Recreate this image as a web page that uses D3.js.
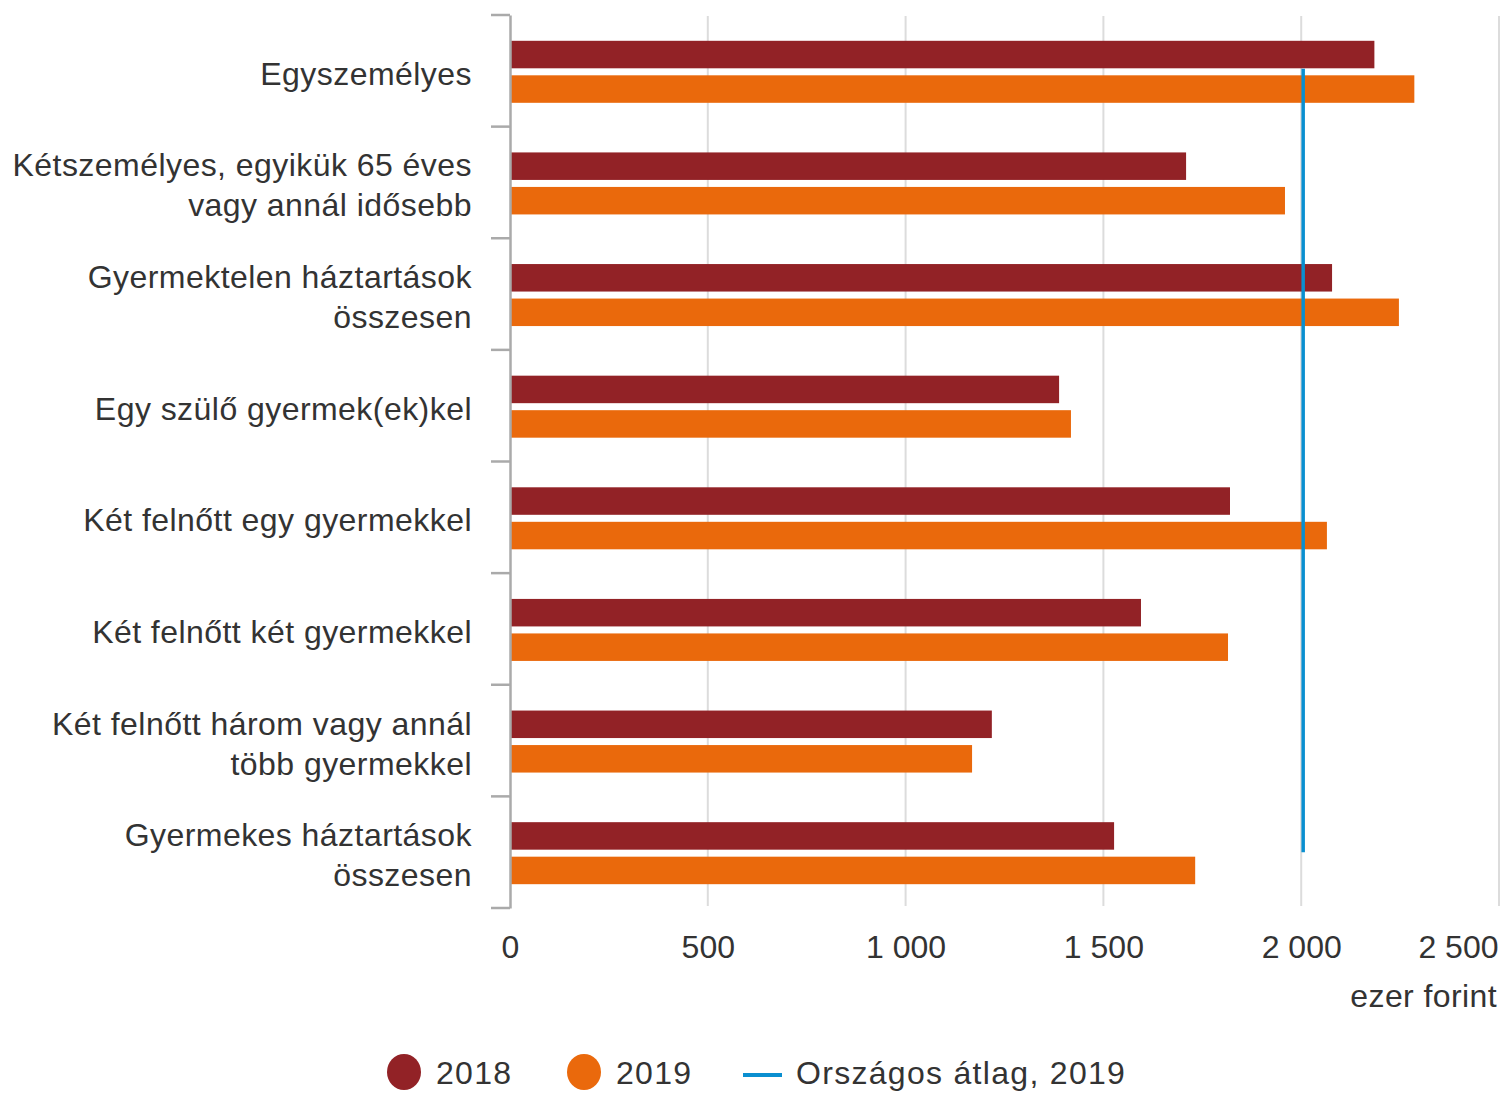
<!DOCTYPE html>
<html><head><meta charset="utf-8">
<script src="https://cdn.jsdelivr.net/npm/d3@7"></script>
<style>body{margin:0;background:#fff}svg{display:block;font-family:"Liberation Sans",Arial,sans-serif}</style>
</head><body><svg id="c" width="1504" height="1094"></svg>
<script>
const categories = [
  ["Egyszemélyes"],
  ["Kétszemélyes, egyikük 65 éves","vagy annál idősebb"],
  ["Gyermektelen háztartások","összesen"],
  ["Egy szülő gyermek(ek)kel"],
  ["Két felnőtt egy gyermekkel"],
  ["Két felnőtt két gyermekkel"],
  ["Két felnőtt három vagy annál","több gyermekkel"],
  ["Gyermekes háztartások","összesen"]
];
const values2018 = [2185, 1709, 2078, 1388, 1820, 1595, 1218, 1527];
const values2019 = [2286, 1959, 2247, 1418, 2065, 1815, 1168, 1732];
const nationalAvg2019 = 2005;
const xTicks = [0, 500, 1000, 1500, 2000, 2500];
const xTickLabels = ["0", "500", "1 000", "1 500", "2 000", "2 500"];
const seriesNames = ["2018", "2019"];
const avgName = "Országos átlag, 2019";
const unitLabel = "ezer forint";

(function(){
const colors = {"2018":"#922226", "2019":"#ea690c", avg:"#0a8fd0"};
const svg = d3.select("#c");
const mLeft = 510, mRight = 1499, mTop = 15, mBottom = 908;
const x = d3.scaleLinear().domain([0, 2500]).range([mLeft, mRight]);
const idx = categories.map((d,i)=>i);
const y = d3.scaleBand().domain(idx).range([mTop, mBottom]);
const inner = d3.scaleBand().domain(seriesNames).range([0, y.bandwidth()])
  .paddingInner(0.203).paddingOuter(0.719).align(0.52);

// gridlines
svg.append("g").selectAll("line").data(xTicks.slice(1)).join("line")
  .attr("x1", d=>x(d)).attr("x2", d=>x(d)).attr("y1", mTop+1).attr("y2", mBottom-2)
  .attr("stroke", "#dcdcdc").attr("stroke-width", 2);

// bars
const rows = idx.map(i=>({i, v:[{s:"2018", v:values2018[i]},{s:"2019", v:values2019[i]}]}));
const g = svg.append("g").selectAll("g").data(rows).join("g")
  .attr("transform", d=>`translate(0,${y(d.i)})`);
g.selectAll("rect").data(d=>d.v).join("rect")
  .attr("x", x(0)).attr("y", d=>inner(d.s)).attr("height", inner.bandwidth())
  .attr("width", d=>x(d.v)-x(0)).attr("fill", d=>colors[d.s]);

// y axis
const yAxis = d3.axisLeft(y).tickSize(0).tickFormat("");
const ya = svg.append("g").attr("transform", `translate(${mLeft},0)`).call(yAxis);
ya.select(".domain").attr("stroke", "#aaaaaa").attr("stroke-width", 2.5);
const bounds = idx.map(i=>y(i)).concat([mBottom]);
svg.append("g").selectAll("line").data(bounds).join("line")
  .attr("x1", 491).attr("x2", mLeft).attr("y1", d=>d).attr("y2", d=>d)
  .attr("stroke", "#aaaaaa").attr("stroke-width", 2.5);

// category labels
const lab = svg.append("g").selectAll("text").data(rows).join("text")
  .attr("text-anchor", "end").attr("fill", "#333").attr("font-size", 32)
  .attr("letter-spacing", "0.45px");
lab.each(function(d){
  const lines = categories[d.i];
  const cy = y(d.i) + y.bandwidth()/2;
  const lh = 40;
  const t = d3.select(this);
  lines.forEach((l,k)=>{
    t.append("tspan").attr("x", 472)
     .attr("y", cy + (k - (lines.length-1)/2)*lh + 14).text(l);
  });
});

// x axis labels
const xa = d3.axisBottom(x).tickValues(xTicks).tickSize(0).tickFormat((d,i)=>xTickLabels[i]);
const xg = svg.append("g").attr("transform", `translate(0,${mBottom})`).call(xa);
xg.select(".domain").remove();
xg.selectAll("text").attr("font-size", 32).attr("fill", "#333")
  .attr("font-family", '"Liberation Sans",Arial,sans-serif').attr("dy", null).attr("y", 50)
  .attr("text-anchor", "middle");
xg.selectAll(".tick").filter((d,i)=>i===xTicks.length-1).select("text").attr("x", -1).attr("text-anchor","end");
svg.append("text").attr("x", 1497).attr("y", 1007).attr("text-anchor", "end")
  .attr("font-size", 32).attr("letter-spacing", "0.4px").attr("fill", "#333").text(unitLabel);

// average line
svg.append("line").attr("x1", x(nationalAvg2019)).attr("x2", x(nationalAvg2019))
  .attr("y1", y(0)+y.bandwidth()/2 - 2).attr("y2", y(idx.length-1)+y.bandwidth()/2)
  .attr("stroke", colors.avg).attr("stroke-width", 3.5);

// legend
const lg = svg.append("g").attr("font-size", 32).attr("letter-spacing", "1.3px").attr("fill", "#333");
const lx = [404, 584];
seriesNames.forEach((s,k)=>{
  lg.append("ellipse").attr("cx", lx[k]).attr("cy", 1072).attr("rx", 17).attr("ry", 18).attr("fill", colors[s]);
  lg.append("text").attr("x", lx[k]+32).attr("y", 1084).text(s);
});
lg.append("line").attr("x1", 743).attr("x2", 782).attr("y1", 1075).attr("y2", 1075)
  .attr("stroke", colors.avg).attr("stroke-width", 4);
lg.append("text").attr("x", 796).attr("y", 1084).text(avgName);
})();
</script></body></html>
